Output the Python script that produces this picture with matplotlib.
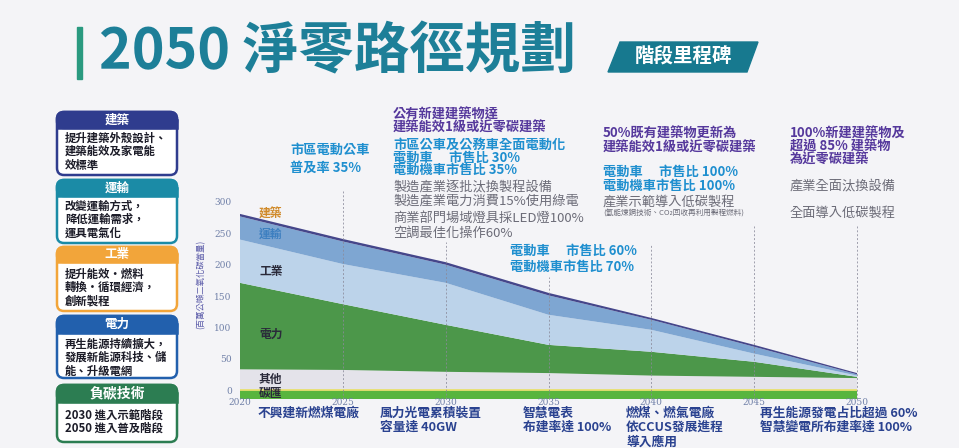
import matplotlib.pyplot as plt
from matplotlib.patches import FancyBboxPatch, Polygon, Rectangle

plt.rcParams['font.family'] = ['Noto Sans CJK TC', 'DejaVu Sans']

# emissions by sector (million t CO2e)
years = [2020, 2025, 2030, 2035, 2040, 2045, 2050]
others = [33, 32, 29, 27, 23, 21, 19]
power = [138, 105, 75, 45, 38, 24, 2]
industry = [69, 64, 67, 48, 35, 13, 2]
transport = [37, 36, 29, 31, 16, 11, 2]
building = [4, 4, 4, 4, 3, 3, 2]
sink = [-15, -15, -15, -15, -15, -15, -15]

yticks = [0, 50, 100, 150, 200, 250, 300]
xticks = [2020, 2025, 2030, 2035, 2040, 2045, 2050]

title = '2050 淨零路徑規劃'
tag = '階段里程碑'
ylabel = '(百萬公噸二氧化碳當量)'

box_titles = ['建築', '運輸', '工業', '電力', '負碳技術']
box_lines = [
    ['提升建築外殼設計、', '建築能效及家電能', '效標準'],
    ['改變運輸方式，', '降低運輸需求，', '運具電氣化'],
    ['提升能效‧燃料', '轉換‧循環經濟，', '創新製程'],
    ['再生能源持續擴大，', '發展新能源科技、儲', '能、升級電網'],
    ['2030 進入示範階段', '2050 進入普及階段'],
]

ann_2025 = ['市區電動公車', '普及率 35%']
bld_2030 = ['公有新建建築物達', '建築能效1級或近零碳建築']
trn_2030 = ['市區公車及公務車全面電動化', '電動車　 市售比 30%', '電動機車市售比 35%']
ind_2030a = ['製造產業逐批汰換製程設備', '製造產業電力消費15%使用綠電']
ind_2030b = ['商業部門場域燈具採LED燈100%', '空調最佳化操作60%']
trn_2035 = ['電動車　 市售比 60%', '電動機車市售比 70%']
bld_2040 = ['50%既有建築物更新為', '建築能效1級或近零碳建築']
trn_2040 = ['電動車　 市售比 100%', '電動機車市售比 100%']
ind_2040 = ['產業示範導入低碳製程']
note_2040 = '(氫能煉鋼技術、CO₂回收再利用製程燃料)'
bld_2045 = ['100%新建建築物及', '超過 85% 建築物', '為近零碳建築']
ind_2045a = ['產業全面汰換設備']
ind_2045b = ['全面導入低碳製程']
pwr_bottom = [
    ['不興建新燃煤電廠'],
    ['風力光電累積裝置', '容量達 40GW'],
    ['智慧電表', '布建率達 100%'],
    ['燃煤、燃氣電廠', '依CCUS發展進程', '導入應用'],
    ['再生能源發電占比超過 60%', '智慧變電所布建率達 100%'],
]

PURPLE = '#55389c'
CYAN = '#1f8fcf'
GRAY = '#6c6c78'
NAVY = '#2a4290'

fig = plt.figure(figsize=(9.59, 4.48), dpi=100)
fig.patch.set_facecolor('#f4f4f7')

# stacked area chart
ax = fig.add_axes([240 / 959, (448 - 399.4) / 448, 617 / 959, 197.4 / 448])
ax.set_facecolor('none')
ax.stackplot(years, others, power, industry, transport, building,
             colors=['#e4e3ea', '#4c974a', '#bcd3ea', '#7ea6d2', '#45468a'], lw=0)
ax.fill_between(years, sink, 0, color='#58b53e', lw=0)
ax.axhline(0, color='#e8e070', lw=1.3)
for yr, h in zip(xticks[1:], [318, 236, 180, 231, 262, 262]):
    ax.plot([yr, yr], [-15, h], ls=(0, (2, 2)), color='#8a8a9a', lw=0.7,
            alpha=0.8, clip_on=False, zorder=3)
ax.set_xlim(2020, 2050)
ax.set_ylim(-15, 300)
ax.set_xticks(xticks)
ax.set_yticks(yticks)
ax.tick_params(length=0, labelsize=6.5, labelcolor='#7080a8')
ax.tick_params(axis='y', pad=6)
ax.tick_params(axis='x', pad=-1)
for lbl in ax.get_xticklabels() + ax.get_yticklabels():
    lbl.set_fontfamily('DejaVu Serif')
for s in ax.spines.values():
    s.set_visible(False)
ax.set_zorder(1)

# full-figure canvas in pixel units for the decorations, drawn on top
bg = fig.add_axes([0, 0, 1, 1])
bg.set_xlim(0, 959)
bg.set_ylim(448, 0)
bg.axis('off')
bg.set_zorder(2)

bg.add_patch(Rectangle((77, 27), 5, 52, color='#2a9a80'))
bg.text(99, 52, title, fontsize=40, fontweight='bold', color='#1d7f98',
        ha='left', va='center')
bg.add_patch(Polygon([(608, 72), (620, 42), (758, 42), (747, 72)], closed=True,
                     color='#17798f'))
bg.text(683, 57, tag, fontsize=14, fontweight='bold', color='white',
        ha='center', va='center')

# left side boxes
box_colors = ['#2f3c8e', '#1b8ba6', '#f2a53a', '#2260ad', '#2c7d52']
box_geo = [(112, 128, 175, 138), (180, 196, 243, 206), (247, 262, 311, 274),
           (316, 333, 378, 344), (385, 402, 442, 415)]
for name, lines, col, (top, hdr, bot, ly) in zip(box_titles, box_lines, box_colors, box_geo):
    bg.add_patch(FancyBboxPatch((57, top), 120, bot - top,
                                boxstyle='round,pad=0,rounding_size=7',
                                fc='white', ec=col, lw=1.8))
    bg.add_patch(FancyBboxPatch((57, top), 120, hdr - top,
                                boxstyle='round,pad=0,rounding_size=7',
                                fc=col, ec=col, lw=1.8))
    bg.add_patch(Rectangle((57, (top + hdr) / 2), 120, (hdr - top) / 2, fc=col, ec=col, lw=1.8))
    bg.text(117, (top + hdr) / 2, name, fontsize=10 if len(name) > 2 else 9,
            fontweight='bold', color='white', ha='center', va='center')
    step = 13 if len(lines) == 2 else 13.5
    for i, t in enumerate(lines):
        bg.text(65, ly + i * step, t, fontsize=8.2, fontweight='bold', color='#1c1c28',
                ha='left', va='center')

bg.text(201, 284, ylabel, rotation=90, fontsize=6, color='#5a5aa8',
        ha='center', va='center')


def block(x, y, lines, color, step, size=9.5, weight='bold'):
    for i, t in enumerate(lines):
        bg.text(x, y + i * step, t, fontsize=size, fontweight=weight, color=color,
                ha='left', va='center')


block(290, 150, ann_2025, CYAN, 18)
block(393, 115, bld_2030, PURPLE, 13)
block(393, 145, trn_2030, CYAN, 12.5)
block(393, 188, ind_2030a, GRAY, 13.5, weight='normal')
block(393, 218, ind_2030b, GRAY, 15, weight='normal')
block(510, 251, trn_2035, CYAN, 16)
block(603, 134, bld_2040, PURPLE, 14)
block(603, 172, trn_2040, CYAN, 14)
block(603, 202, ind_2040, GRAY, 13, weight='normal')
bg.text(603, 214, note_2040, fontsize=5.5, color=GRAY, ha='left', va='center')
block(790, 134, bld_2045, PURPLE, 13)
block(790, 187, ind_2045a, GRAY, 13, weight='normal')
block(790, 213, ind_2045b, GRAY, 13, weight='normal')
for x, lines in zip([258, 380, 523, 626, 760], pwr_bottom):
    block(x, 413, lines, NAVY, 14.5, size=9.2)

# sector labels inside the areas
for t, y, c in [('建築', 213, '#d08a2a'), ('運輸', 234, '#3d7fc0'), ('工業', 272, '#2a2a3a'),
                ('電力', 334, '#2a2a3a'), ('其他', 379, '#2a2a3a'), ('碳匯', 394, '#2a2a3a')]:
    bg.text(259, y, t, fontsize=8.5, fontweight='bold', color=c, ha='left', va='center')

fig.savefig('out.png', dpi=100, facecolor=fig.get_facecolor())
